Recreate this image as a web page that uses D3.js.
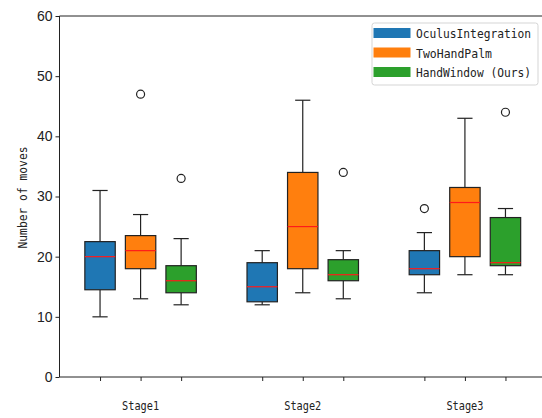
<!DOCTYPE html>
<html>
<head>
<meta charset="utf-8">
<script src="https://cdn.jsdelivr.net/npm/d3@7"></script>
<style>
  body { margin: 0; background: #fff; }
  svg { display: block; }
</style>
</head>
<body>
<svg id="chart" width="542" height="418"></svg>
<script>
const stages = ["Stage1", "Stage2", "Stage3"];
const methods = ["OculusIntegration", "TwoHandPalm", "HandWindow (Ours)"];
const methodColors = ["#1f77b4", "#ff7f0e", "#2ca02c"];

// [lower whisker, q1, median, q3, upper whisker] per stage
const oculusStats = [[10, 14.5, 20, 22.5, 31], [12, 12.5, 15, 19, 21], [14, 17, 18, 21, 24]];
const twoHandStats = [[13, 18, 21, 23.5, 27], [14, 18, 25, 34, 46], [17, 20, 29, 31.5, 43]];
const handWindowStats = [[12, 14, 16, 18.5, 23], [13, 16, 17, 19.5, 21], [17, 18.5, 19, 26.5, 28]];

const oculusOutliers = [[], [], [28]];
const twoHandOutliers = [[47], [], []];
const handWindowOutliers = [[33], [34], [44]];

const yTicks = [0, 10, 20, 30, 40, 50, 60];

const seriesStats = [oculusStats, twoHandStats, handWindowStats];
const seriesOutliers = [oculusOutliers, twoHandOutliers, handWindowOutliers];

const svg = d3.select("#chart");
const margin = { left: 59.5, top: 16, bottom: 377 };

const x = d3.scaleLinear().domain([0, 12]).range([margin.left, 546]);
const y = d3.scaleLinear().domain([0, 60]).range([margin.bottom, margin.top]);

const numFont = "'Liberation Sans Narrow', 'Liberation Sans', sans-serif";
const textFont = "'DejaVu Sans Mono', 'Liberation Mono', monospace";

const boxes = [];
seriesStats.forEach((stats, m) => {
  stats.forEach((s, i) => {
    boxes.push({ pos: i * 4 + m + 1, color: methodColors[m], s, outliers: seriesOutliers[m][i] });
  });
});

const boxWidth = 0.75;
const capWidth = boxWidth / 2;

// axes
const yAxis = svg.append("g")
  .attr("transform", `translate(${margin.left},0)`)
  .call(d3.axisLeft(y).tickValues(yTicks).tickSize(4).tickPadding(3));
yAxis.select(".domain").remove();
yAxis.selectAll("text")
  .attr("font-family", numFont)
  .attr("font-size", 14)
  .attr("fill", "#222");
yAxis.selectAll("line").attr("stroke", "#222");

const xAxis = svg.append("g")
  .attr("transform", `translate(0,${margin.bottom})`)
  .call(d3.axisBottom(x).tickValues(boxes.map((b) => b.pos)).tickSize(4).tickFormat(""));
xAxis.select(".domain").remove();
xAxis.selectAll("line").attr("stroke", "#222");

// spines
svg.append("line").attr("x1", margin.left).attr("x2", margin.left)
  .attr("y1", margin.top).attr("y2", margin.bottom).attr("stroke", "#222");
svg.append("line").attr("x1", margin.left).attr("x2", 546)
  .attr("y1", margin.bottom).attr("y2", margin.bottom).attr("stroke", "#222");
svg.append("line").attr("x1", margin.left).attr("x2", 546)
  .attr("y1", margin.top).attr("y2", margin.top).attr("stroke", "#222");

// boxes
const g = svg.append("g").selectAll("g").data(boxes).join("g");

g.append("line")
  .attr("x1", (d) => x(d.pos)).attr("x2", (d) => x(d.pos))
  .attr("y1", (d) => y(d.s[0])).attr("y2", (d) => y(d.s[1]))
  .attr("stroke", "#222").attr("stroke-width", 1.2);
g.append("line")
  .attr("x1", (d) => x(d.pos)).attr("x2", (d) => x(d.pos))
  .attr("y1", (d) => y(d.s[3])).attr("y2", (d) => y(d.s[4]))
  .attr("stroke", "#222").attr("stroke-width", 1.2);
[0, 4].forEach((k) => {
  g.append("line")
    .attr("x1", (d) => x(d.pos - capWidth / 2)).attr("x2", (d) => x(d.pos + capWidth / 2))
    .attr("y1", (d) => y(d.s[k])).attr("y2", (d) => y(d.s[k]))
    .attr("stroke", "#222").attr("stroke-width", 1.2);
});
g.append("rect")
  .attr("x", (d) => x(d.pos - boxWidth / 2))
  .attr("width", x(boxWidth) - x(0))
  .attr("y", (d) => y(d.s[3]))
  .attr("height", (d) => y(d.s[1]) - y(d.s[3]))
  .attr("fill", (d) => d.color)
  .attr("stroke", "#222").attr("stroke-width", 1.2);
g.append("line")
  .attr("x1", (d) => x(d.pos - boxWidth / 2)).attr("x2", (d) => x(d.pos + boxWidth / 2))
  .attr("y1", (d) => y(d.s[2])).attr("y2", (d) => y(d.s[2]))
  .attr("stroke", "#ff1a1a").attr("stroke-width", 1.2);
g.selectAll("circle")
  .data((d) => d.outliers.map((v) => ({ pos: d.pos, v })))
  .join("circle")
  .attr("cx", (d) => x(d.pos)).attr("cy", (d) => y(d.v))
  .attr("r", 4).attr("fill", "none").attr("stroke", "#222").attr("stroke-width", 1.2);

// stage labels
svg.append("g").selectAll("text").data(stages).join("text")
  .attr("x", (d, i) => x(i * 4 + 2))
  .attr("y", 410)
  .attr("text-anchor", "middle")
  .attr("font-family", textFont)
  .attr("font-size", 12.5)
  .attr("textLength", 37)
  .attr("lengthAdjust", "spacingAndGlyphs")
  .attr("fill", "#222")
  .text((d) => d);

// y label
svg.append("text")
  .attr("transform", `translate(27,${(margin.top + margin.bottom) / 2 + 1}) rotate(-90)`)
  .attr("text-anchor", "middle")
  .attr("font-family", textFont)
  .attr("font-size", 12.5)
  .attr("textLength", 102)
  .attr("lengthAdjust", "spacingAndGlyphs")
  .attr("fill", "#222")
  .text("Number of moves");

// legend
const legend = svg.append("g").attr("transform", "translate(372,23)");
legend.append("rect")
  .attr("width", 166).attr("height", 62).attr("rx", 2.5)
  .attr("fill", "#fff").attr("fill-opacity", 0.8)
  .attr("stroke", "#d5d5d5");
const legendWidths = [115, 76, 115];
methods.forEach((name, i) => {
  const row = legend.append("g").attr("transform", `translate(0,${10 + i * 19.5})`);
  row.append("rect").attr("x", 1.5).attr("y", -5).attr("width", 37).attr("height", 10)
    .attr("fill", methodColors[i]);
  row.append("text")
    .attr("x", 44).attr("y", 5)
    .attr("font-family", textFont)
    .attr("font-size", 12)
    .attr("textLength", legendWidths[i])
    .attr("lengthAdjust", "spacingAndGlyphs")
    .attr("fill", "#222")
    .text(name);
});
</script>
</body>
</html>
